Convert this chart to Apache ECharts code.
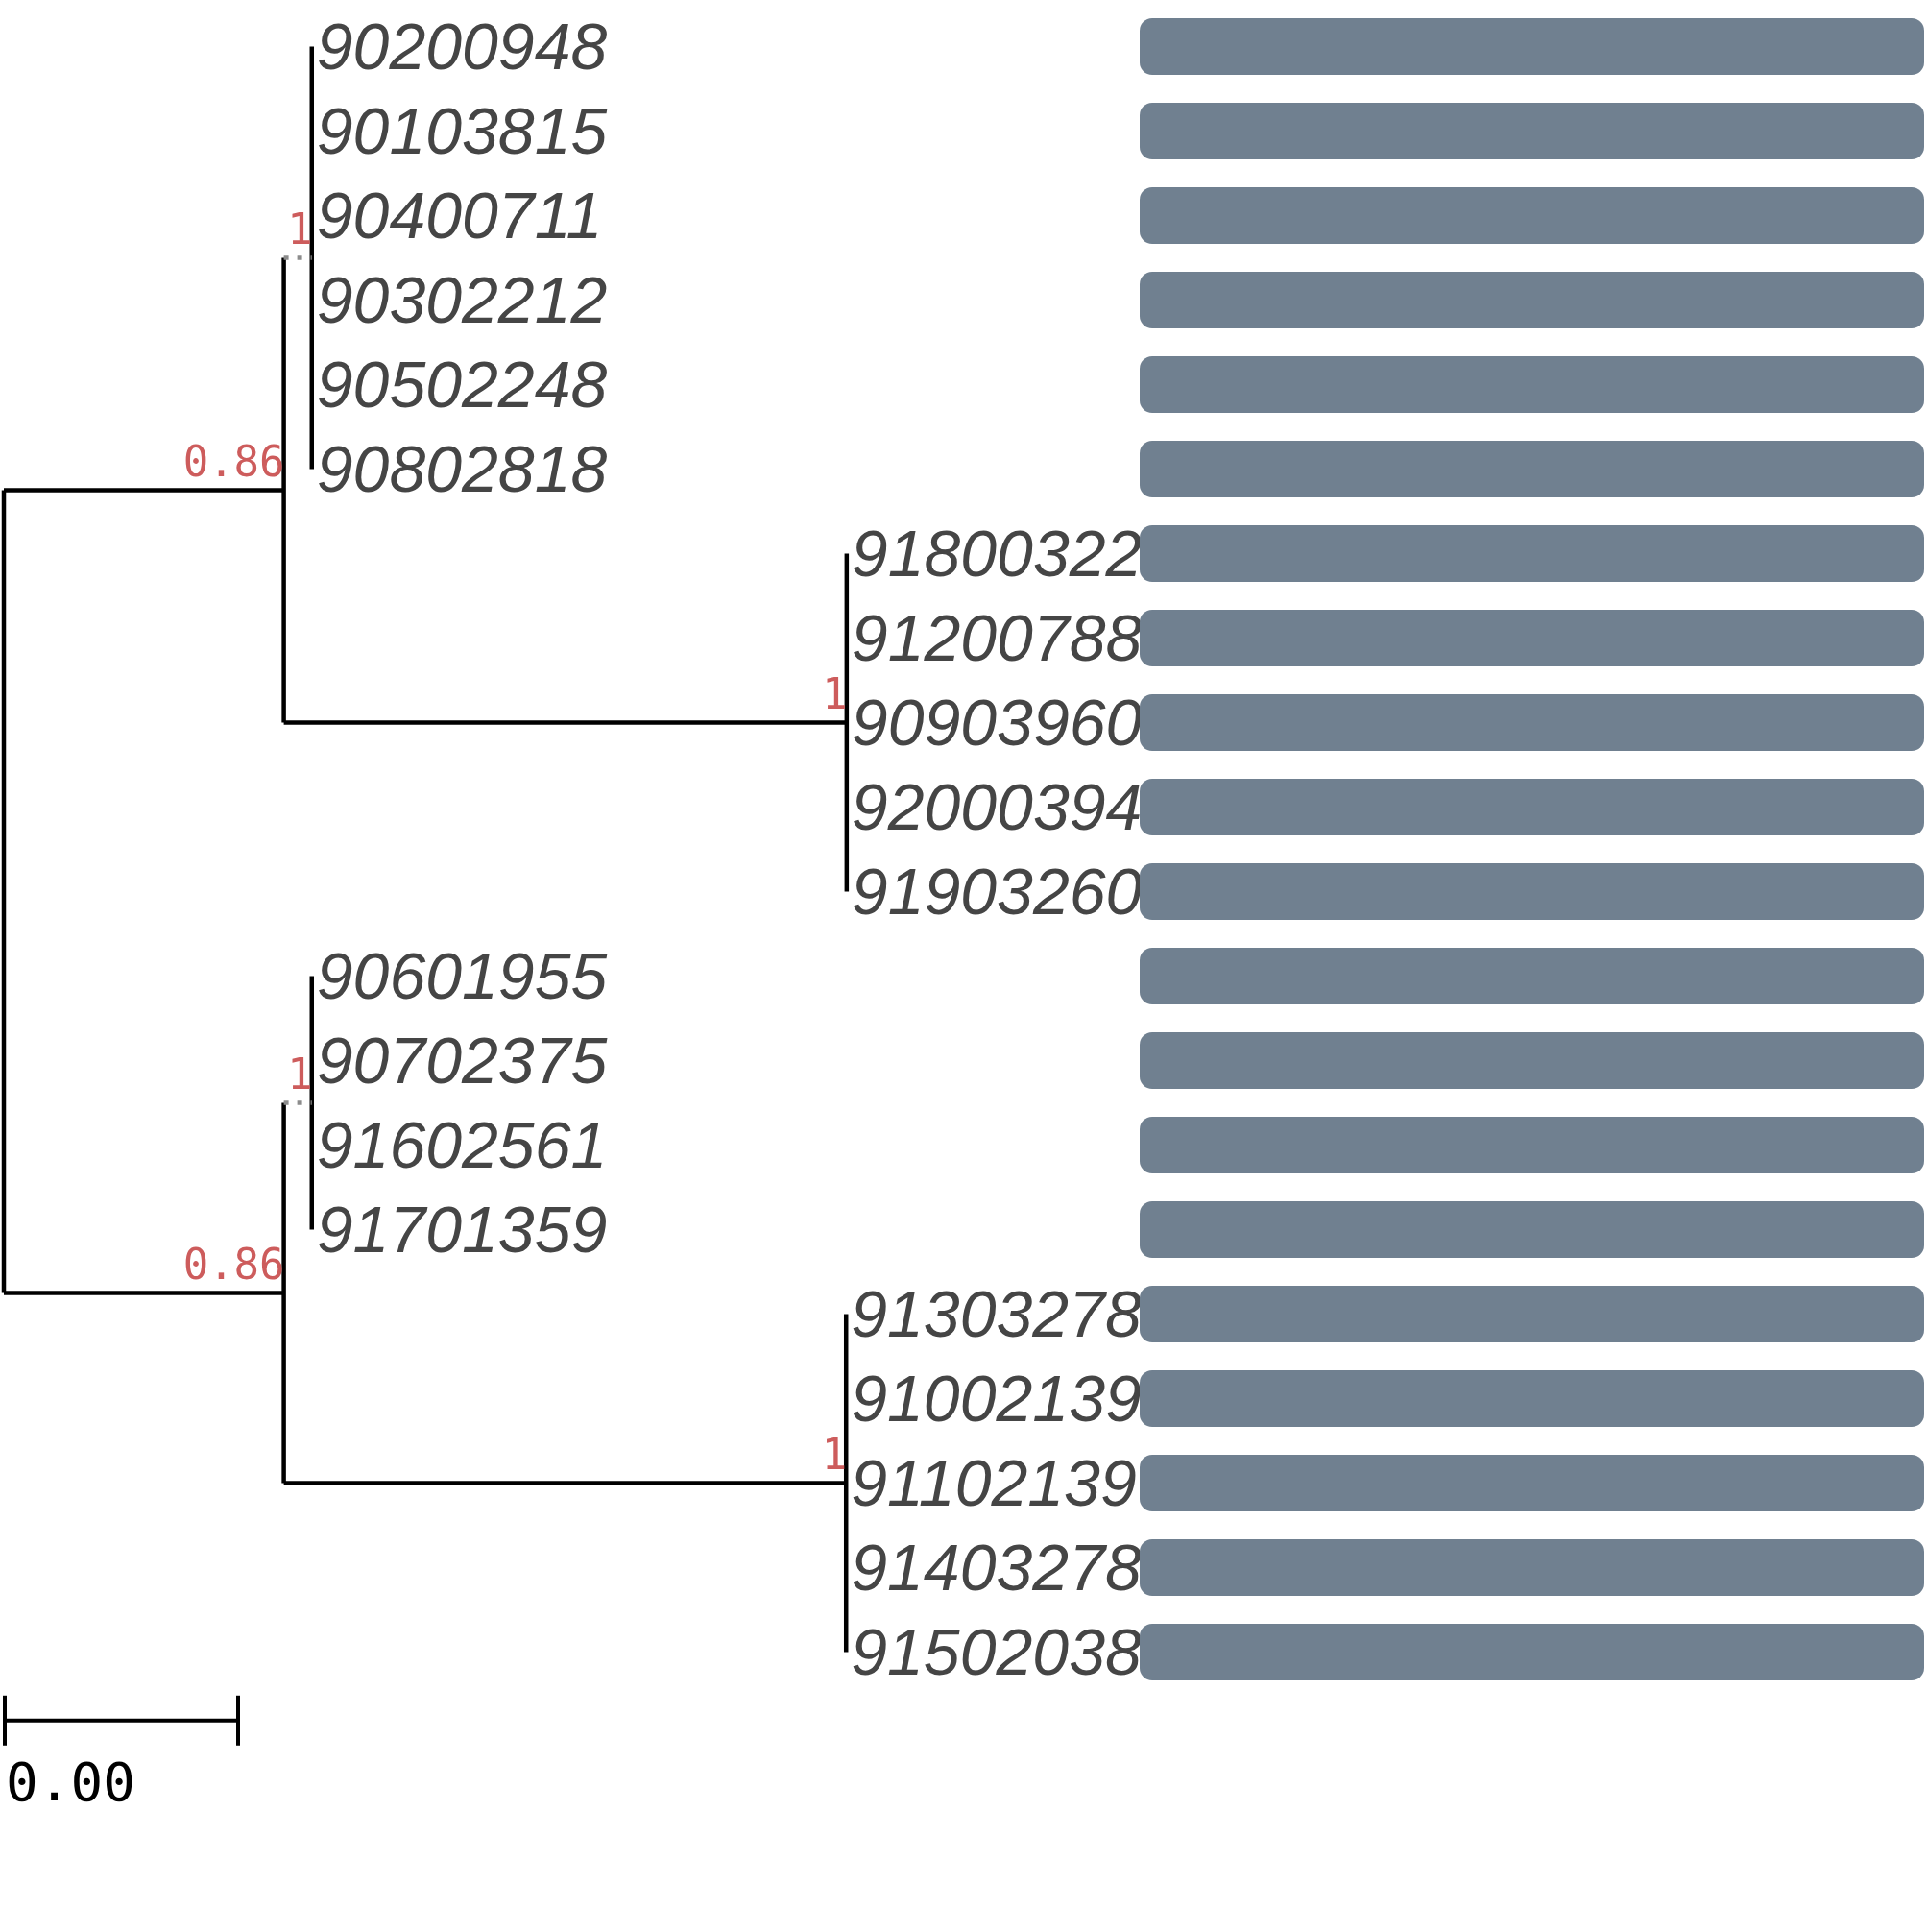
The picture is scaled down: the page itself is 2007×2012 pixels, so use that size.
<!DOCTYPE html>
<html>
<head>
<meta charset="utf-8">
<script src="https://cdn.jsdelivr.net/npm/echarts@6/dist/echarts.min.js" type="text/javascript"></script>
<style>body{margin:0;background:#fff;}</style>
</head>
<body>
<div id="container" style="width:2007px;height:2012px;"></div>
<script type="text/javascript">
// tips, top to bottom, and the internal node each one hangs from
var leafNames = ['90200948', '90103815', '90400711', '90302212', '90502248', '90802818',
    '91800322', '91200788', '90903960', '92000394', '91903260',
    '90601955', '90702375', '91602561', '91701359',
    '91303278', '91002139', '91102139', '91403278', '91502038'];
var leafParent = ['A', 'A', 'A', 'A', 'A', 'A',
    'B', 'B', 'B', 'B', 'B',
    'C', 'C', 'C', 'C',
    'D', 'D', 'D', 'D', 'D'];
var leafBranch = [0, 0, 0, 0, 0, 0, 0, 0, 0, 0, 0, 0, 0, 0, 0, 0, 0, 0, 0, 0];

// internal nodes (parents listed before children)
var nodeNames = ['root', 'top', 'A', 'B', 'bottom', 'C', 'D'];
var nodeParent = [null, 'root', 'top', 'top', 'root', 'bottom', 'bottom'];
var nodeDepth = [0, 0.0048, 0.00528, 0.01445, 0.0048, 0.00528, 0.01444];
var nodeSupport = ['', '0.86', '1', '1', '0.86', '1', '1'];

// bar panel on the right
var barValues = [1, 1, 1, 1, 1, 1, 1, 1, 1, 1, 1, 1, 1, 1, 1, 1, 1, 1, 1, 1];

var scaleBarLength = 0.004;
var scaleBarRow = 19.81;

// ---- tree layout ----
var nodeIdx = {};
nodeNames.forEach(function (n, i) { nodeIdx[n] = i; });
var nodeRowMin = nodeNames.map(function () { return Infinity; });
var nodeRowMax = nodeNames.map(function () { return -Infinity; });
var nodeRow = [];
leafNames.forEach(function (n, i) {
    var p = nodeIdx[leafParent[i]];
    nodeRowMin[p] = Math.min(nodeRowMin[p], i);
    nodeRowMax[p] = Math.max(nodeRowMax[p], i);
});
for (var i = nodeNames.length - 1; i >= 0; i--) {
    nodeRow[i] = (nodeRowMin[i] + nodeRowMax[i]) / 2;
    if (nodeParent[i] !== null) {
        var p = nodeIdx[nodeParent[i]];
        nodeRowMin[p] = Math.min(nodeRowMin[p], nodeRow[i]);
        nodeRowMax[p] = Math.max(nodeRowMax[p], nodeRow[i]);
    }
}

var dottedNodes = ['A', 'C'];
var segments = [];
nodeNames.forEach(function (n, i) {
    segments.push([nodeDepth[i], nodeRowMin[i], nodeDepth[i], nodeRowMax[i], 0]);
    if (nodeParent[i] !== null) {
        var p = nodeIdx[nodeParent[i]];
        segments.push([nodeDepth[p], nodeRow[i], nodeDepth[i], nodeRow[i],
            dottedNodes.indexOf(n) >= 0 ? 1 : 0]);
    }
});
var leafData = leafNames.map(function (n, i) {
    var d = nodeDepth[nodeIdx[leafParent[i]]] + leafBranch[i];
    return [d, i, n];
});
var supportData = [];
nodeNames.forEach(function (n, i) {
    if (nodeSupport[i] !== '') supportData.push([nodeDepth[i], nodeRow[i], nodeSupport[i]]);
});

var dom = document.getElementById('container');
var myChart = echarts.init(dom);

var option = {
    animation: false,
    backgroundColor: '#ffffff',
    grid: [
        { left: 4, top: 4.5, width: 1215, height: 1760 },
        { left: 1187, top: 4.5, width: 817, height: 1760 }
    ],
    xAxis: [
        { type: 'value', gridIndex: 0, min: 0, max: 0.02, show: false },
        { type: 'value', gridIndex: 1, min: 0, max: 1, show: false }
    ],
    yAxis: [
        { type: 'value', gridIndex: 0, min: -0.5, max: 19.5, inverse: true, show: false },
        { type: 'category', gridIndex: 1, data: leafNames, inverse: true, show: false }
    ],
    series: [
        {
            name: 'bars',
            type: 'bar',
            xAxisIndex: 1,
            yAxisIndex: 1,
            barWidth: 59,
            itemStyle: { color: '#708090', borderRadius: 13 },
            data: barValues
        },
        {
            name: 'branches',
            type: 'custom',
            xAxisIndex: 0,
            yAxisIndex: 0,
            clip: false,
            data: segments,
            encode: { x: [0, 2], y: [1, 3] },
            renderItem: function (params, api) {
                var a = api.coord([api.value(0), api.value(1)]);
                var b = api.coord([api.value(2), api.value(3)]);
                var dotted = api.value(4) === 1;
                return {
                    type: 'line',
                    shape: { x1: a[0], y1: a[1], x2: b[0], y2: b[1] },
                    style: {
                        stroke: dotted ? '#8c8c8c' : '#000000',
                        lineWidth: 4.5,
                        lineDash: dotted ? [5, 9] : null
                    }
                };
            }
        },
        {
            name: 'tips',
            type: 'custom',
            xAxisIndex: 0,
            yAxisIndex: 0,
            clip: false,
            data: leafData,
            encode: { x: 0, y: 1 },
            renderItem: function (params, api) {
                var p = api.coord([api.value(0), api.value(1)]);
                return {
                    type: 'text',
                    x: p[0] + 5,
                    y: p[1] + 5,
                    style: {
                        text: leafData[params.dataIndex][2],
                        font: 'italic 68px "Liberation Sans"',
                        fill: '#454545',
                        align: 'left',
                        verticalAlign: 'middle'
                    }
                };
            }
        },
        {
            name: 'support',
            type: 'custom',
            xAxisIndex: 0,
            yAxisIndex: 0,
            clip: false,
            data: supportData,
            encode: { x: 0, y: 1 },
            renderItem: function (params, api) {
                var p = api.coord([api.value(0), api.value(1)]);
                return {
                    type: 'text',
                    x: p[0] + 1,
                    y: p[1] - 4,
                    style: {
                        text: supportData[params.dataIndex][2],
                        font: '44px "DejaVu Sans Mono"',
                        fill: '#CD5C5C',
                        align: 'right',
                        verticalAlign: 'bottom'
                    }
                };
            }
        },
        {
            name: 'scale',
            type: 'custom',
            xAxisIndex: 0,
            yAxisIndex: 0,
            clip: false,
            data: [[0, scaleBarRow, scaleBarLength]],
            renderItem: function (params, api) {
                var a = api.coord([api.value(0), api.value(1)]);
                var b = api.coord([api.value(0) + api.value(2), api.value(1)]);
                var s = { stroke: '#000000', lineWidth: 4 };
                return {
                    type: 'group',
                    children: [
                        { type: 'line', shape: { x1: a[0] + 1, y1: a[1], x2: b[0] + 1, y2: b[1] }, style: s },
                        { type: 'line', shape: { x1: a[0] + 1, y1: a[1] - 26, x2: a[0] + 1, y2: a[1] + 26 }, style: s },
                        { type: 'line', shape: { x1: b[0] + 1, y1: b[1] - 26, x2: b[0] + 1, y2: b[1] + 26 }, style: s },
                        {
                            type: 'text', x: a[0] + 2, y: a[1] + 41,
                            style: {
                                text: api.value(2).toFixed(2),
                                font: '56px "DejaVu Sans Mono"',
                                fill: '#000000',
                                align: 'left',
                                verticalAlign: 'top'
                            }
                        }
                    ]
                };
            }
        }
    ]
};
myChart.setOption(option, true);
</script>
</body>
</html>
